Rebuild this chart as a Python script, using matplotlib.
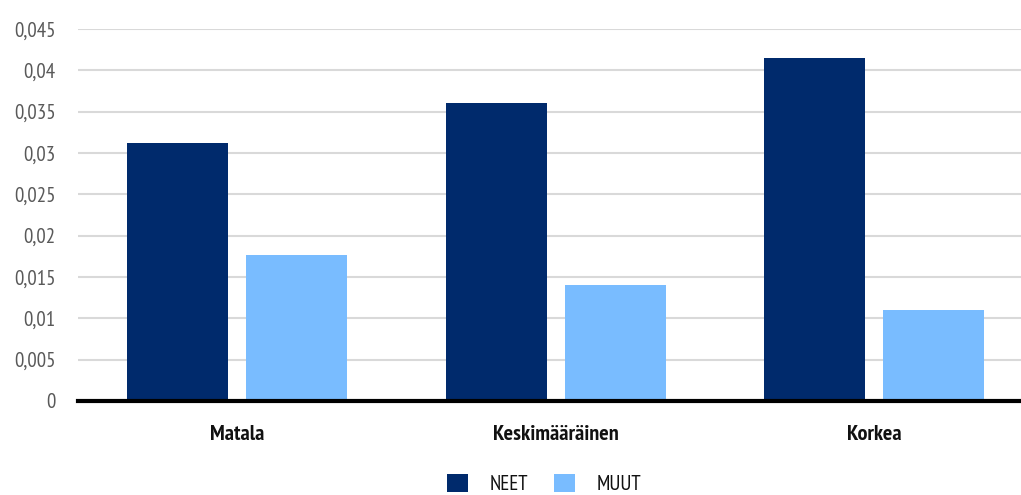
import matplotlib
matplotlib.use("Agg")
import matplotlib.pyplot as plt
from matplotlib import font_manager
import numpy as np

categories = ["Matala", "Keskimääräinen", "Korkea"]
neet = [0.0312, 0.0360, 0.0415]
muut = [0.0177, 0.0140, 0.0110]
series_names = ["NEET", "MUUT"]
yticks = [0, 0.005, 0.01, 0.015, 0.02, 0.025, 0.03, 0.035, 0.04, 0.045]
ytick_labels = ["0", "0,005", "0,01", "0,015", "0,02", "0,025", "0,03", "0,035", "0,04", "0,045"]

fl = font_manager.fontManager.ttflist
def has_regular(name):
    return any(f.name == name and f.style == "normal" and f.weight in (400, "normal", "regular") for f in fl)
prefs = ["PT Sans Narrow", "Roboto Condensed", "Open Sans Condensed", "Fira Sans Condensed",
         "Barlow Condensed", "Asap Condensed", "Archivo Narrow"]
fam = next((p for p in prefs if has_regular(p)), "DejaVu Sans")
plt.rcParams['font.family'] = [fam, 'DejaVu Sans']

fig = plt.figure(figsize=(10.21, 4.95), dpi=100)
ax = fig.add_axes([78/1021, 1 - 401/495, 1 - 78/1021, 372/495])

x = np.arange(len(categories))
w = 0.317
off = (w + 0.0565) / 2
ax.bar(x - off, neet, w, color="#002a6c", label=series_names[0], zorder=3)
ax.bar(x + off, muut, w, color="#79bcff", label=series_names[1], zorder=3)

ax.set_ylim(0, 0.045)
ax.set_xlim(-0.5, 2 + (1021 - 874) / 318.5)
ax.set_yticks(yticks)
ax.set_yticklabels(ytick_labels, fontsize=15, color="#595959", fontweight="normal")
ax.set_xticks(x)
ax.set_xticklabels(categories, fontsize=16, fontweight="bold", color="#111111")
ax.tick_params(axis='y', length=0, pad=16)
ax.tick_params(axis='x', length=0, pad=17)
ax.yaxis.grid(True, color="#d9d9d9", linewidth=1.5, zorder=0)
for s in ["top", "right", "left"]:
    ax.spines[s].set_visible(False)
ax.spines["bottom"].set_linewidth(3)
ax.spines["bottom"].set_color("black")
ax.spines["bottom"].set_zorder(4)

leg = fig.legend(loc="center", bbox_to_anchor=(544/1021, 1 - 484/495), ncol=2,
                 frameon=False, fontsize=15, handlelength=1.0, handleheight=1.0,
                 columnspacing=1.25, handletextpad=1.05)
for t in leg.get_texts():
    t.set_color("#111111")
    t.set_fontweight("normal")

fig.savefig("out.png", dpi=100)
